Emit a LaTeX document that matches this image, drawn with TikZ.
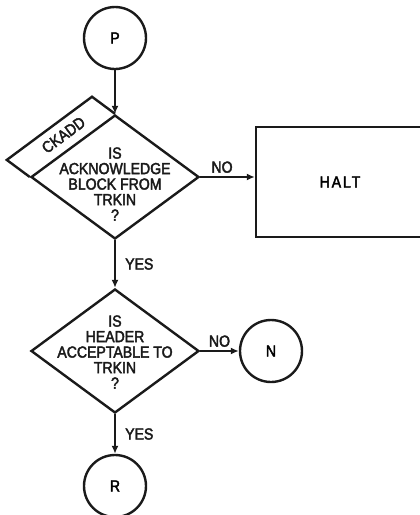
\documentclass[tikz,border=0pt]{standalone}
\usepackage{fontspec}
\setmainfont{Liberation Sans}
\newfontfamily\lettr[FakeStretch=0.88,FakeBold=2.5]{Liberation Sans}
\usepackage{tikz}
\usetikzlibrary{calc,arrows.meta,positioning,shapes.geometric}
\definecolor{inkc}{HTML}{1A1A1A}
\tikzset{
  ar/.style={-{Latex[length=8pt,width=7pt]},line width=2.4pt,inkc},
  ln/.style={line width=2.4pt,inkc,line join=miter},
  box/.style={draw=inkc,line width=2.4pt,minimum width=168pt,minimum height=110pt,font=\lettr\fontsize{16}{17}\selectfont\addfontfeature{LetterSpace=12}},
  dec/.style={diamond,draw=inkc,line width=2.4pt,minimum width=168pt,minimum height=124pt,inner sep=0pt},
  nd/.style={circle,draw=inkc,line width=2.4pt,minimum size=62pt,inner sep=0pt,font=\lettr\fontsize{16}{17}\selectfont},
  txt/.style={align=center,inner sep=0pt,font=\lettr\fontsize{16}{15.5}\selectfont,text=inkc},
  lbl/.style={inner sep=3pt,font=\lettr\fontsize{16}{17}\selectfont,text=inkc}
}
\begin{document}
\begin{tikzpicture}[x=1pt,y=-1pt]
\clip (0,0) rectangle (420,515);
\node[nd] (p) at (115,38) {P};
\node[dec] (ack) at (115,177) {};
\node[txt] (ackq) at (115,184) {IS\\ACKNOWLEDGE\\BLOCK FROM\\TRKIN\\?};
\coordinate (fw) at ($(ack.west)!-0.27!(ack.south)$);
\coordinate (fn) at ($(ack.north)!-0.27!(ack.east)$);
\draw[ln] (ack.west) -- (fw) -- (fn) -- (ack.north);
\path ($(ack.west)!0.5!(fw)$) -- ($(ack.north)!0.5!(fn)$) node[txt,pos=0.53,sloped] (ckadd) {CKADD};
\node[box] (halt) at (340,182) {HALT};
\node[dec] (hdr) at (115,351) {};
\node[txt] (hdrq) at (115,352) {IS\\HEADER\\ACCEPTABLE TO\\TRKIN\\?};
\node[nd] (n) at (271,351) {N};
\node[nd] (r) at (115,486) {R};
\draw[ar] (p) -- (ack.north);
\draw[ar] (ack.east) -- node[lbl,pos=0.4,above] (no1) {NO} (ack.east -| halt.west);
\draw[ar] (ack.south) -- node[lbl,right=6pt] (yes1) {YES} (hdr.north);
\draw[ar] (hdr.east) -- node[lbl,above] (no2) {NO} (n);
\draw[ar] (hdr.south) -- node[lbl,right=6pt] (yes2) {YES} (r);
\end{tikzpicture}
\end{document}
